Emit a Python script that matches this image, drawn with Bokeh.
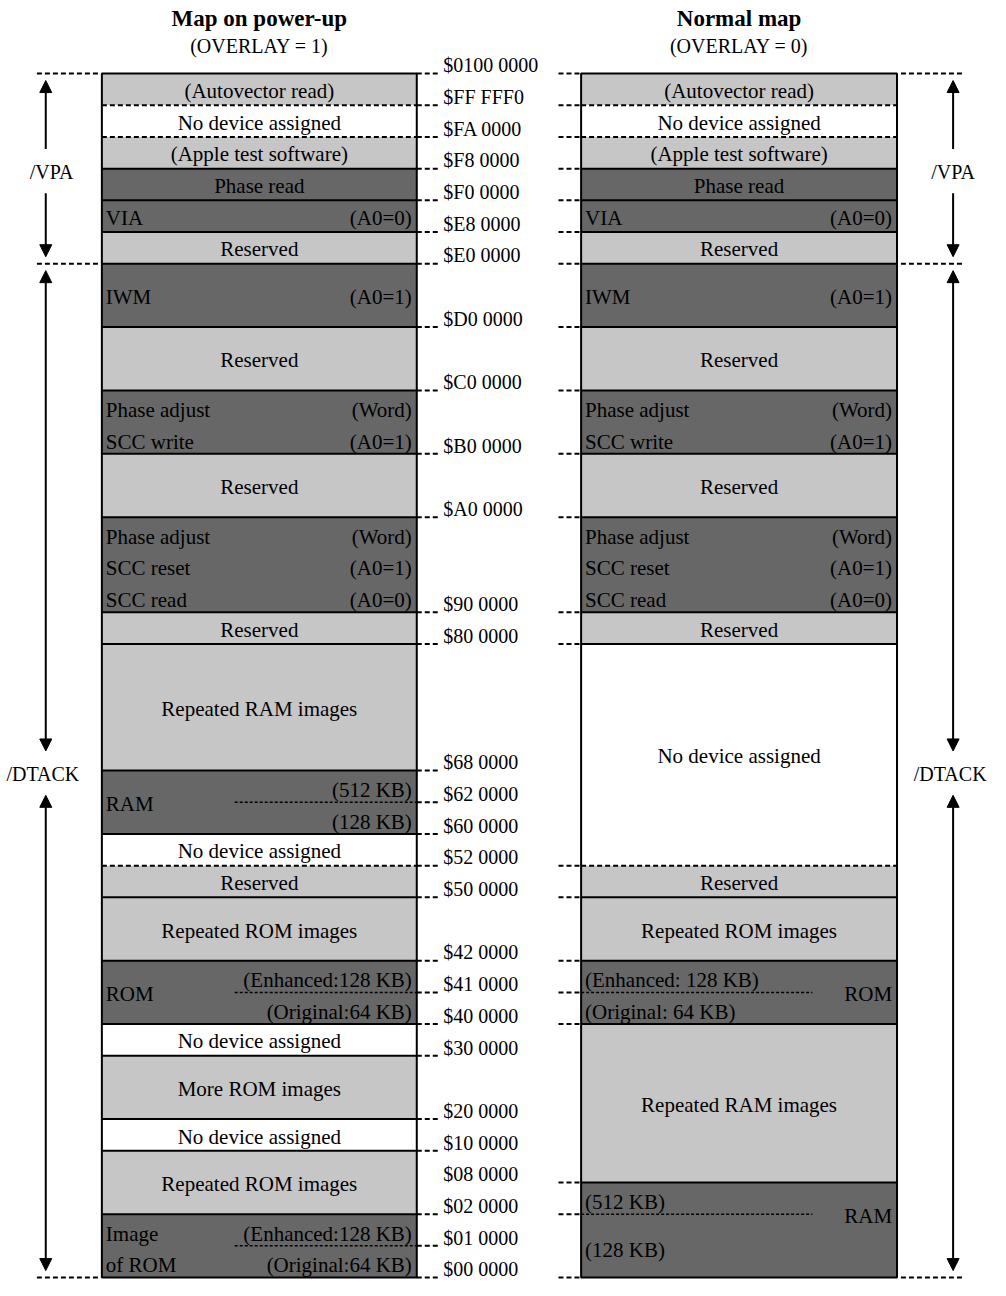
import numpy as np
from bokeh.plotting import figure
from bokeh.models import Range1d, Arrow, NormalHead
from bokeh.core.properties import value
from bokeh.embed import file_html
from bokeh.resources import INLINE

# ---------------- data ----------------
titles = ["Map on power-up", "Normal map"]
subtitles = ["(OVERLAY = 1)", "(OVERLAY = 0)"]

# each region: list of sub-row sizes (address slots), top to bottom
left_split = [[1], [1], [1], [1], [1], [1], [2], [2], [1, 1], [2], [1, 1, 1], [1],
              [4], [1, 1], [1], [1], [2], [1, 1], [1], [2], [1], [2], [1, 1]]
left_shade = ["light", "white", "light", "dark", "dark", "light", "dark", "light", "dark", "light",
              "dark", "light", "light", "dark", "white", "light", "light", "dark", "white", "light",
              "white", "light", "dark"]
left_center = ["(Autovector read)", "No device assigned", "(Apple test software)", "Phase read", "",
               "Reserved", "", "Reserved", "", "Reserved", "", "Reserved", "Repeated RAM images", "",
               "No device assigned", "Reserved", "Repeated ROM images", "", "No device assigned",
               "More ROM images", "No device assigned", "Repeated ROM images", ""]
left_west = [[], [], [], [], ["VIA"], [], ["IWM"], [], ["Phase adjust", "SCC write"], [],
             ["Phase adjust", "SCC reset", "SCC read"], [], [], ["RAM"], [], [], [], ["ROM"], [], [],
             [], [], ["Image", "of ROM"]]
left_east = [[], [], [], [], ["(A0=0)"], [], ["(A0=1)"], [], ["(Word)", "(A0=1)"], [],
             ["(Word)", "(A0=1)", "(A0=0)"], [], [], ["(512 KB)", "(128 KB)"], [], [], [],
             ["(Enhanced:128 KB)", "(Original:64 KB)"], [], [], [], [],
             ["(Enhanced:128 KB)", "(Original:64 KB)"]]
left_dashed_rows = [1, 2, 25]
left_partial_rows = [23, 29, 37]

right_split = [[1], [1], [1], [1], [1], [1], [2], [2], [1, 1], [2], [1, 1, 1], [1],
               [7], [1], [2], [1, 1], [5], [1, 2]]
right_shade = ["light", "white", "light", "dark", "dark", "light", "dark", "light", "dark", "light",
               "dark", "light", "white", "light", "light", "dark", "light", "dark"]
right_center = ["(Autovector read)", "No device assigned", "(Apple test software)", "Phase read", "",
                "Reserved", "", "Reserved", "", "Reserved", "", "Reserved", "No device assigned",
                "Reserved", "Repeated ROM images", "", "Repeated RAM images", ""]
right_west = [[], [], [], [], ["VIA"], [], ["IWM"], [], ["Phase adjust", "SCC write"], [],
              ["Phase adjust", "SCC reset", "SCC read"], [], [], [], [],
              ["(Enhanced: 128 KB)", "(Original: 64 KB)"], [], ["(512 KB)", "(128 KB)"]]
right_east = [[], [], [], [], ["(A0=0)"], [], ["(A0=1)"], [], ["(Word)", "(A0=1)"], [],
              ["(Word)", "(A0=1)", "(A0=0)"], [], [], [], [], ["ROM"], [], ["RAM"]]
right_dashed_rows = [1, 2, 25]
right_partial_rows = [29, 36]

addr_labels = ["$0100 0000", "$FF FFF0", "$FA 0000", "$F8 0000", "$F0 0000", "$E8 0000",
               "$E0 0000", "$D0 0000", "$C0 0000", "$B0 0000", "$A0 0000", "$90 0000",
               "$80 0000", "$68 0000", "$62 0000", "$60 0000", "$52 0000", "$50 0000",
               "$42 0000", "$41 0000", "$40 0000", "$30 0000", "$20 0000", "$10 0000",
               "$08 0000", "$02 0000", "$01 0000", "$00 0000"]
addr_rows = [0, 1, 2, 3, 4, 5, 6, 8, 10, 12, 14, 17, 18, 22, 23, 24, 25, 26, 28, 29, 30, 31,
             33, 34, 35, 36, 37, 38]

signal_names = ["/VPA", "/DTACK"]
signal_from = [0, 6]
signal_to = [6, 38]
signal_at = [3, 22]
signal_inner_heads = [False, True]

# ---------------- layout ----------------
FONT = value("Liberation Serif")
TOTAL = 38
REF_W, REF_H = 1006, 1296
TOP_PX, BOT_PX = 74, 1293
UNIT = (BOT_PX - TOP_PX) / TOTAL
W, H = 990, 1280
LEFT_X = (103, 423)
RIGHT_X = (590, 911)
SHADES = {"light": "#c6c6c6", "dark": "#676767", "white": "#ffffff"}

p = figure(width=W, height=H,
           x_range=Range1d(0, REF_W),
           y_range=Range1d((REF_H - TOP_PX) / UNIT, (0 - TOP_PX) / UNIT),
           output_backend="svg", toolbar_location=None, min_border=0)
p.axis.visible = False
p.grid.visible = False
p.outline_line_color = None
p.background_fill_color = "white"


def txt(x, y, s, align="center", size="21px", style="normal"):
    if not len(s):
        return
    p.text(x=x, y=y, text=s, text_font=FONT, text_font_size=size, text_align=align,
           text_baseline="middle", text_font_style=style, text_color="black")


def draw_map(xs, split, shade, center, west, east, dashed_rows, partial_rows, partial_x):
    x0, x1 = xs
    rows = np.array([sum(s) for s in split])
    tops = np.concatenate([[0], np.cumsum(rows)[:-1]])
    bots = tops + rows
    p.quad(left=x0, right=x1, top=tops, bottom=bots,
           fill_color=[SHADES[s] for s in shade], line_color=None)
    solid = [b for b in bots[:-1] if b not in dashed_rows]
    p.segment(x0=x0, y0=solid, x1=x1, y1=solid, line_color="black", line_width=2)
    p.segment(x0=x0, y0=dashed_rows, x1=x1, y1=dashed_rows, line_color="black",
              line_width=2, line_dash="5 3")
    p.segment(x0=partial_x[0], y0=partial_rows, x1=partial_x[1], y1=partial_rows,
              line_color="black", line_width=1.5, line_dash="3 2")
    p.quad(left=x0, right=x1, top=0, bottom=TOTAL, fill_color=None,
           line_color="black", line_width=2)
    cx = (x0 + x1) / 2
    for t, s, c, w, e in zip(tops, split, center, west, east):
        mid = t + sum(s) / 2
        txt(cx, [mid + 0.05], [c])
        for lines, x, al in ((w, x0 + 4, "left"), (e, x1 - 5, "right")):
            if len(lines) == 1:
                y = t + s[0] if len(s) > 1 else mid
                txt(x, [y + 0.05], lines, align=al)
            elif len(lines) > 1:
                edges = np.concatenate([[0], np.cumsum(s)])
                ys = [t + (edges[i] + edges[i + 1]) / 2 + 0.12 for i in range(len(s))]
                txt([x] * len(ys), ys, lines, align=al)
    return sorted(set(list(tops) + [TOTAL] + list(partial_rows)))


lb = draw_map(LEFT_X, left_split, left_shade, left_center, left_west, left_east,
              left_dashed_rows, left_partial_rows, (238, LEFT_X[1]))
rb = draw_map(RIGHT_X, right_split, right_shade, right_center, right_west, right_east,
              right_dashed_rows, right_partial_rows, (RIGHT_X[0], 825))

# titles
for xs, t, st in zip((LEFT_X, RIGHT_X), titles, subtitles):
    cx = (xs[0] + xs[1]) / 2
    txt([cx], [(18 - TOP_PX) / UNIT], [t], size="23px", style="bold")
    txt([cx], [(46 - TOP_PX) / UNIT], [st], size="20px")

# address labels with ticks (text sits just above its boundary)
tick_rows = [r for r in addr_rows if r in lb]
p.segment(x0=LEFT_X[1], y0=tick_rows, x1=447, y1=tick_rows, line_color="black",
          line_width=2, line_dash="5 3")
txt([450] * len(addr_rows), [r - 0.26 for r in addr_rows], addr_labels, align="left",
    size="20px")

# right map ticks on its left side
p.segment(x0=567, y0=rb, x1=RIGHT_X[0], y1=rb, line_color="black", line_width=2,
          line_dash="5 3")

# signal brackets
edge_rows = sorted(set(signal_from + signal_to))
p.segment(x0=37, y0=edge_rows, x1=100, y1=edge_rows, line_color="black", line_width=2,
          line_dash="5 3")
p.segment(x0=915, y0=edge_rows, x1=977, y1=edge_rows, line_color="black", line_width=2,
          line_dash="5 3")

for ax, lxs in ((46, (52, 43)), (968, (968, 965))):
    for name, a, b, at, inner, lx in zip(signal_names, signal_from, signal_to, signal_at,
                                         signal_inner_heads, lxs):
        txt([lx], [at + 0.1], [name], size="20px")
        head = lambda: NormalHead(size=12, fill_color="black", line_color="black")
        p.add_layout(Arrow(x_start=ax, y_start=at - 0.62, x_end=ax, y_end=a + 0.22,
                           end=head(), start=head() if inner else None,
                           line_color="black", line_width=2))
        p.add_layout(Arrow(x_start=ax, y_start=at + 0.78, x_end=ax, y_end=b - 0.22,
                           end=head(), start=head() if inner else None,
                           line_color="black", line_width=2))

open("out.html", "w").write(file_html(p, INLINE))
